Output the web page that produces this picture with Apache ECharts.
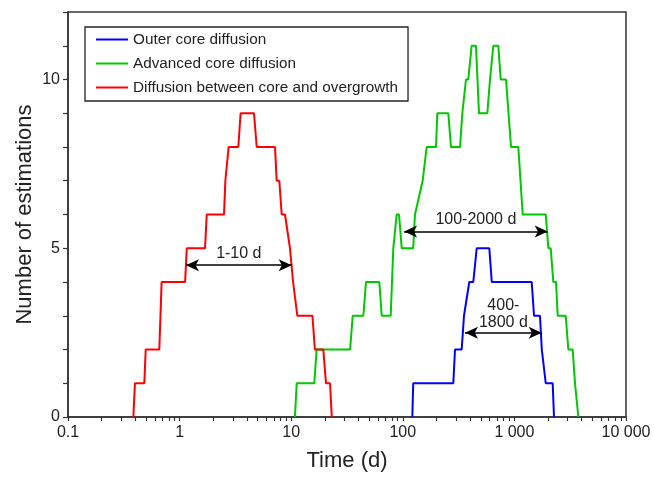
<!DOCTYPE html>
<html>
<head>
<meta charset="utf-8">
<script src="https://cdn.jsdelivr.net/npm/echarts@6/dist/echarts.min.js"></script>
<style>
html,body{margin:0;padding:0;background:#fff;}
#chart{width:654px;height:477px;}
</style>
</head>
<body>
<div id="chart"></div>
<script>
// ---- data (time in days, number of estimations) ----
const seriesNames = ['Outer core diffusion', 'Advanced core diffusion', 'Diffusion between core and overgrowth'];
const bluePoints = [[121.7,0],[124,1],[283.6,1],[293.6,2],[337.1,2],[353.4,3],[360.7,3],[394.3,4],[428.3,4],[459.3,5],[596,5],[627,4],[1429,4],[1500,3],[1695,3],[1760,2],[1800,2],[1909,1],[2203,1],[2264,0]];
const greenPoints = [[10.8,0],[11.2,1],[16.1,1],[16.9,2],[33.7,2],[35.6,3],[44.3,3],[46.8,4],[61.6,4],[64.7,3],[77.9,3],[82.2,5],[85.1,5],[88.1,6],[92.5,6],[97.8,5],[124,5],[128.5,6],[133.3,6],[150.7,7],[154.9,7],[163.7,8],[198.3,8],[203.8,9],[255.7,9],[270.2,8],[325.7,8],[341.5,9],[355.7,9],[368.3,10],[386.2,10],[414,11],[452.6,11],[481.7,9],[571.8,9],[604.5,10],[626.6,10],[647.6,11],[717.6,11],[753.8,10],[841,10],[933,8],[1084,8],[1187,6],[1909,6],[2015,5],[2115,5],[2233,4],[2360,4],[2444,3],[2884,3],[3041,2],[3327,2],[3491,1],[3615,1],[3741,0]];
const redPoints = [[0.385,0],[0.398,1],[0.483,1],[0.497,2],[0.658,2],[0.69,4],[1.12,4],[1.16,5],[1.69,5],[1.75,6],[2.5,6],[2.57,7],[2.64,7],[2.75,8],[3.36,8],[3.52,9],[4.64,9],[4.91,8],[7.16,8],[7.41,7],[7.83,7],[8.22,6],[8.8,6],[9.75,5],[10.1,5],[10.4,4],[10.8,4],[11.35,3],[15.5,3],[16.3,2],[19.4,2],[20.5,1],[22.3,1],[23.1,0]];
// range annotations: [from, to, level, text]
const redRange = [1.14, 10.1, 4.5, '1-10 d'];
const greenRange = [102.6, 1987, 5.5, '100-2000 d'];
const blueRange = [360.7, 1757, 2.5, '400-\n1800 d'];
// axes
const xDecades = [0.1, 1, 10, 100, 1000, 10000];
const xTickLabels = ['0.1', '1', '10', '100', '1 000', '10 000'];
const yTickLabels = [0, 5, 10];
const yTicks = [0,1,2,3,4,5,6,7,8,9,10,11,12];

const xMinorTicks = [];
for (let d = 0; d < xDecades.length - 1; d++) {
  for (let k = 1; k <= 9; k++) xMinorTicks.push(+(xDecades[d] * k).toPrecision(6));
}
xMinorTicks.push(10000);

const FONT = 'Liberation Sans, Arial, sans-serif';
const colors = ['#0000ff', '#00c800', '#ff0000'];

function rangeLine(r, color, labelOffsetY) {
  return {
    silent: true,
    symbol: ['arrow', 'arrow'],
    symbolSize: [9, 13],
    lineStyle: { color: '#000', width: 1.5, type: 'solid' },
    label: {
      show: true, position: 'middle', formatter: r[3],
      fontFamily: FONT, fontSize: 16, color: '#222', lineHeight: 17,
      distance: labelOffsetY
    },
    data: [[{ coord: [r[0], r[2]] }, { coord: [r[1], r[2]] }]]
  };
}

function lineSeries(name, pts, color, range, off) {
  return {
    name: name, type: 'line', data: pts, symbol: 'none',
    lineStyle: { color: color, width: 2 }, itemStyle: { color: color },
    z: 3, animation: false,
    markLine: range ? rangeLine(range, color, off) : undefined
  };
}

const chart = echarts.init(document.getElementById('chart'), null, { renderer: 'canvas' });
chart.setOption({
  animation: false,
  backgroundColor: '#fff',
  grid: { left: 68, right: 28, top: 12, bottom: 56.5, show: true, borderColor: '#333', borderWidth: 1.5, backgroundColor: 'transparent' },
  legend: {
    orient: 'vertical', left: 85, top: 27,
    data: seriesNames,
    itemWidth: 32, itemHeight: 14, itemGap: 9, itemTextGap: 5,
    padding: [5, 10, 6, 11],
    borderColor: '#222', borderWidth: 1.3, backgroundColor: '#fff',
    textStyle: { fontFamily: FONT, fontSize: 15.3, color: '#222' },
    icon: 'path://M0,6 L32,6 L32,8 L0,8 Z'
  },
  xAxis: {
    type: 'log', logBase: 10, min: 0.1, max: 10000,
    name: 'Time (d)', nameLocation: 'middle', nameGap: 33, nameMoveOverlap: false,
    nameTextStyle: { fontFamily: FONT, fontSize: 22, color: '#222' },
    axisLine: { show: true, lineStyle: { color: '#333', width: 1.5 } },
    axisTick: { show: true, inside: false, length: 4, customValues: xMinorTicks, lineStyle: { color: '#333', width: 1.2 } },
    axisLabel: {
      fontFamily: FONT, fontSize: 16, color: '#222', margin: 8,
      formatter: function (v) { const i = Math.round(Math.log10(v)) + 1; return xTickLabels[i]; }
    },
    splitLine: { show: false }
  },
  yAxis: {
    type: 'value', min: 0, max: 12,
    name: 'Number of estimations', nameLocation: 'middle', nameGap: 32, nameMoveOverlap: false,
    nameTextStyle: { fontFamily: FONT, fontSize: 22, color: '#222' },
    axisLine: { show: true, lineStyle: { color: '#333', width: 1.5 } },
    axisTick: { show: true, inside: false, length: 5, customValues: yTicks, lineStyle: { color: '#333', width: 1.2 } },
    axisLabel: { fontFamily: FONT, fontSize: 16, color: '#222', margin: 8, customValues: yTickLabels },
    splitLine: { show: false }
  },
  series: [
    lineSeries(seriesNames[0], bluePoints, colors[0], blueRange, 2),
    lineSeries(seriesNames[1], greenPoints, colors[1], greenRange, 3),
    lineSeries(seriesNames[2], redPoints, colors[2], redRange, 3)
  ]
});
</script>
</body>
</html>
